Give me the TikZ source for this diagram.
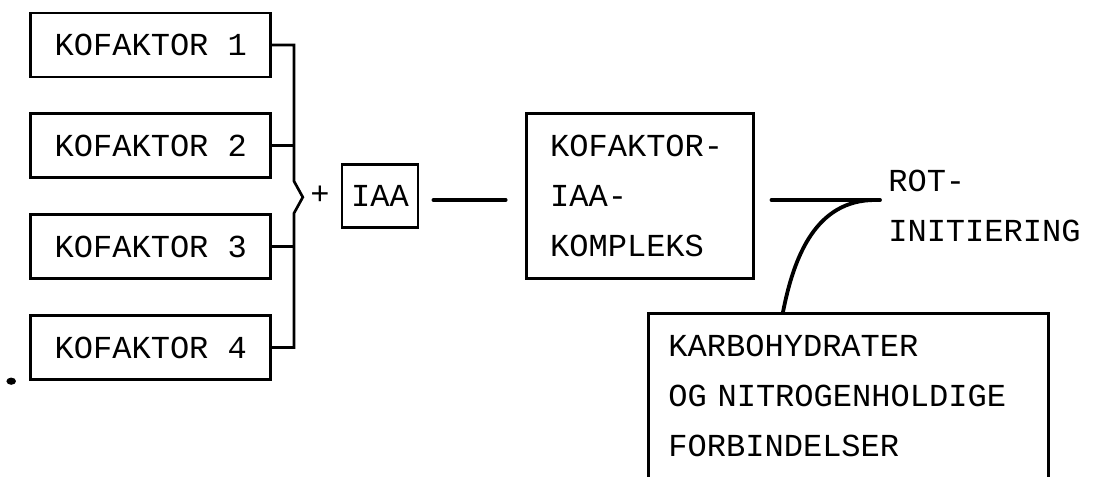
\documentclass[tikz,border=0pt]{standalone}
\usepackage{fontspec}
\newfontfamily\typefont{Liberation Mono}
\usetikzlibrary{positioning,calc}

\begin{document}
\begin{tikzpicture}[
    every node/.style={font=\typefont\fontsize{22.8}{35.6}\selectfont},
    box/.style={draw, line width=2pt, minimum width=6cm, minimum height=1.6cm, inner sep=0pt},
    wire/.style={line width=1.9pt},
    bar/.style={line width=2.7pt, line cap=round}
  ]
    \useasboundingbox (0,0) rectangle (27.325,-11.925);
    % cofactors and brace
    \node[box] (k1) at (3.77,-1.125) {KOFAKTOR 1};
    \node[box, below=0.85cm of k1] (k2) {KOFAKTOR 2};
    \node[box, below=0.85cm of k2] (k3) {KOFAKTOR 3};
    \node[box, below=0.85cm of k3] (k4) {KOFAKTOR 4};
    \coordinate (bx) at (7.35,0);
    \coordinate (btip) at (7.57,-4.93);
    \draw[wire] (k1.east) -- (k1.east -| bx) -- ([yshift=0.4cm]bx |- btip) -- (btip)
      -- ([yshift=-0.4cm]bx |- btip) -- (k4.east -| bx) -- (k4.east);
    \foreach \k in {k2,k3}
      \draw[wire] (\k.east) -- (\k.east -| bx);
    \fill (0.28,-9.53) ellipse (0.12 and 0.09);
    % IAA and complex
    \node (plus) at (8.0,-4.875) {+};
    \node[box, minimum width=1.9cm, minimum height=1.575cm] (iaa) at (9.5,-4.91) {IAA};
    \node[box, minimum width=5.675cm, minimum height=4.125cm, text width=4.475cm,
      align=left, inner xsep=0.6cm] (cplx) at (15.99,-4.89) {KOFAKTOR-\\IAA-\\KOMPLEKS};
    \draw[bar] ([shift={(0.35,-0.09)}]iaa.east) -- ([shift={(-0.475,-0.11)}]cplx.west);
    % rooting
    \coordinate (junc) at (22.0,-5.0);
    \node[anchor=west, align=left, inner xsep=0.2cm, inner ysep=0pt] (rot) at (22.0,-5.15) {ROT-\\INITIERING};
    \node[box, anchor=north west, minimum width=10cm, minimum height=4.125cm, text width=9cm,
      align=left, inner xsep=0.5cm] (carb) at (16.175,-7.8)
      {KARBOHYDRATER\\\mbox{OG NITROGENHOLDIGE}\\FORBINDELSER};
    \coordinate (feed) at ([xshift=3.4cm]carb.north west);
    \draw[bar] ([xshift=0.425cm]cplx.east |- junc) -- (junc);
    \draw[bar] (feed) .. controls (19.85,-6.4) and (20.4,-5.0) .. ([xshift=-0.12cm]junc);
  \end{tikzpicture}
\end{document}
